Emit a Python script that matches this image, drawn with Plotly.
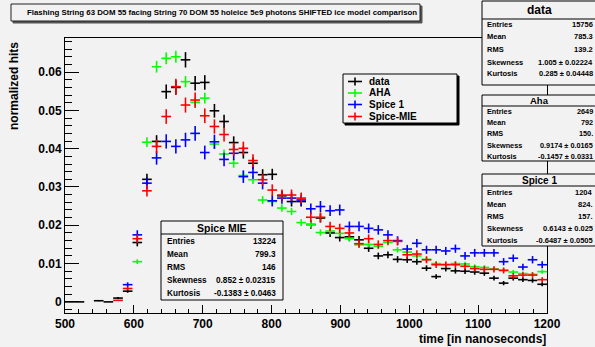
import math
import plotly.graph_objects as go

# ---- histogram binning (50 bins, 500-1200 ns) ----
x_lo, x_hi, n_bins = 500, 1200, 50
bin_w = (x_hi - x_lo) / n_bins
bin_centers = [x_lo + bin_w * (k + 0.5) for k in range(n_bins)]

# ---- normalized hit fractions per bin ----
data_vals = [0.0, 0.0, None, 0.0003, 0.0, 0.0010, 0.0028, 0.0155, 0.0320, 0.0419,
             0.0549, 0.0560, 0.0632, 0.0571, 0.0573, 0.0499, 0.0471, 0.0416, 0.0390, 0.0362,
             0.0332, 0.0333, 0.0277, 0.0262, 0.0262, 0.0202, 0.0219, 0.0180, 0.0168, 0.0170,
             0.0162, 0.0140, 0.0120, 0.0123, 0.0111, 0.0110, 0.0105, 0.0088, 0.0066, 0.0087,
             0.0081, 0.0080, 0.0078, 0.0075, 0.0062, 0.0049, 0.0062, 0.0058, 0.0056, 0.0046]
aha_vals = [None, None, None, None, None, None, None, 0.0105, 0.0417, 0.0614,
            0.0636, 0.0640, 0.0575, 0.0521, 0.0532, 0.0412, 0.0386, 0.0362, 0.0330, 0.0319,
            0.0266, 0.0262, 0.0245, 0.0236, 0.0207, 0.0202, 0.0181, 0.0185, 0.0179, 0.0165,
            0.0149, 0.0150, 0.0145, 0.0155, 0.0136, 0.0130, 0.0120, 0.0111, 0.0100, 0.0098,
            0.0100, 0.0099, 0.0092, 0.0090, 0.0086, 0.0083, 0.0078, 0.0074, 0.0072, 0.0079]
spice1_vals = [None, None, None, None, None, None, 0.0045, 0.0175, 0.0310, 0.0376,
               0.0419, 0.0406, 0.0423, 0.0440, 0.0390, 0.0418, 0.0372, 0.0388, 0.0327, 0.0338,
               0.0310, 0.0264, 0.0271, 0.0271, 0.0266, 0.0243, 0.0249, 0.0238, 0.0240, 0.0197,
               0.0197, 0.0192, 0.0188, 0.0175, 0.0160, 0.0138, 0.0153, 0.0136, 0.0136, 0.0133,
               0.0139, 0.0120, 0.0128, 0.0128, 0.0128, 0.0105, 0.0114, 0.0091, 0.0110, 0.0097]
spicemie_vals = [None, None, None, None, None, 0.0004, 0.0035, 0.0165, 0.0290, 0.0406,
                 0.0484, 0.0562, 0.0514, 0.0527, 0.0486, 0.0458, 0.0437, 0.0398, 0.0401, 0.0369,
                 0.0319, 0.0292, 0.0279, 0.0279, 0.0271, 0.0221, 0.0221, 0.0197, 0.0192, 0.0180,
                 0.0152, 0.0165, 0.0150, 0.0160, 0.0158, 0.0123, 0.0125, 0.0110, 0.0097, 0.0097,
                 0.0097, 0.0093, 0.0087, 0.0085, 0.0085, 0.0082, 0.0068, 0.0070, 0.0070, 0.0058]

# entries used for the statistical error of each normalized histogram
entries = {"data": 15756, "AHA": 26490, "Spice 1": 12040, "Spice-MIE": 13224}

series_names = ["data", "AHA", "Spice 1", "Spice-MIE"]
series_vals = [data_vals, aha_vals, spice1_vals, spicemie_vals]
series_colors = ["#000000", "#00ff00", "#0000ff", "#ff0000"]

# ---- statistics boxes ----
stat_labels = ["Entries", "Mean", "RMS", "Skewness", "Kurtosis"]
data_stats = ["15756", "785.3", "139.2", "1.005 ± 0.02224", "0.285 ± 0.04448"]
aha_stats = ["2649", "792", "150.", "0.9174 ± 0.0165", "-0.1457 ± 0.0331"]
spice1_stats = ["1204", "824.", "157.", "0.6143 ± 0.025", "-0.6487 ± 0.0505"]
spicemie_stats = ["13224", "799.3", "146", "0.852 ± 0.02315", "-0.1383 ± 0.0463"]

title_text = ("Flashing String 63 DOM 55 facing String 70 DOM 55 holeice 5e9 photons "
              "SHIFTED ice model comparison")
y_tick_vals = [0, 0.01, 0.02, 0.03, 0.04, 0.05, 0.06]
y_tick_text = ["0", "0.01", "0.02", "0.03", "0.04", "0.05", "0.06"]
x_tick_vals = [500, 600, 700, 800, 900, 1000, 1100, 1200]

# ---- page geometry (pixels) ----
W, H = 595, 347
FL, FR, FT, FB = 65, 547, 38, 313
BG = "#f2f2f2"
FONT = "Liberation Sans"


def px(x):
    return (x - FL) / (FR - FL)


def py(y):
    return (FB - y) / (FB - FT)


fig = go.Figure()

for name, vals, col in zip(series_names, series_vals, series_colors):
    xs, ys, es = [], [], []
    for c, v in zip(bin_centers, vals):
        if v is None:
            continue
        xs.append(c)
        ys.append(v)
        es.append(math.sqrt(v / entries[name]))
    fig.add_trace(go.Scatter(
        x=xs, y=ys, mode="markers", name=name, showlegend=False,
        marker=dict(size=0.1, color=col),
        error_x=dict(type="constant", value=bin_w / 2, width=0, thickness=1.6, color=col),
        error_y=dict(type="data", array=es, width=0, thickness=1.6, color=col),
        cliponaxis=True,
    ))

shapes = []
annots = []


def rect(x0, y0, x1, y1, fill=BG, line="#000000", lw=1):
    shapes.append(dict(type="rect", xref="paper", yref="paper",
                       x0=px(x0), x1=px(x1), y0=py(y1), y1=py(y0),
                       fillcolor=fill, line=dict(color=line, width=lw), layer="above"))


def hline(x0, x1, y, col="#000000", lw=1):
    shapes.append(dict(type="line", xref="paper", yref="paper",
                       x0=px(x0), x1=px(x1), y0=py(y), y1=py(y),
                       line=dict(color=col, width=lw), layer="above"))


def vline(x, y0, y1, col="#000000", lw=1):
    shapes.append(dict(type="line", xref="paper", yref="paper",
                       x0=px(x), x1=px(x), y0=py(y0), y1=py(y1),
                       line=dict(color=col, width=lw), layer="above"))


def text(x, y, s, size, anchor="left", col="#000000", angle=0):
    annots.append(dict(xref="paper", yref="paper", x=px(x), y=py(y), text="<b>%s</b>" % s,
                       showarrow=False, xanchor=anchor, yanchor="middle", textangle=angle,
                       font=dict(family=FONT, size=size, color=col)))


# title box with a drop shadow
rect(13, 6, 422, 23, fill="#555555", line="#555555")
rect(11, 4, 420, 21, fill=BG, line="#222222")
text(222, 12.5, title_text, 7.85, anchor="center")


def stats_box(left, right, top, sep, bottom, title, title_y, title_size,
              row_ys, values, row_size, lab_x, val_x):
    rect(left, top, right, bottom)
    hline(left, right, sep)
    cx = (left + right) / 2 if right <= W else (left + W) / 2 + 1
    text(cx, title_y, title, title_size, anchor="center")
    for lab, val, yy in zip(stat_labels, values, row_ys):
        text(lab_x, yy, lab, row_size, anchor="left")
        text(val_x, yy, val, row_size, anchor="right")


stats_box(482, 600, 1, 19, 85, "data", 10, 12,
          [25, 37, 49.5, 62, 74], data_stats, 7.5, 485, 595)
stats_box(482, 600, 95, 106, 161, "Aha", 100.5, 9.5,
          [111.5, 122.5, 133.5, 145, 156], aha_stats, 7.3, 485, 595)
stats_box(482, 600, 174, 186, 246, "Spice 1", 180, 10,
          [192, 204, 216.5, 228.5, 240.5], spice1_stats, 7.5, 485, 595)
stats_box(161, 283, 221, 234, 300, "Spice MIE", 227.5, 10.5,
          [241, 254, 267, 280.5, 293.5], spicemie_stats, 8.2, 165, 278)

# legend with a drop shadow
rect(345, 76, 459, 125, fill="#000000")
rect(343, 74, 457, 123)
leg_ys = [81.5, 93, 104.5, 116.5]
for name, col, yy in zip(series_names, series_colors, leg_ys):
    hline(348, 362, yy, col=col, lw=1.6)
    vline(355, yy - 4, yy + 4, col=col, lw=1.6)
    text(367, yy, name, 10, anchor="left")

# axis titles
text(14, 86, "normalized hits", 12, anchor="center", angle=-90)
text(548, 339, "time [in nanoseconds]", 12, anchor="right")

fig.update_layout(
    width=W, height=H,
    margin=dict(l=FL, r=W - FR, t=FT, b=H - FB, pad=0),
    paper_bgcolor=BG, plot_bgcolor=BG,
    shapes=shapes, annotations=annots,
    showlegend=False,
    xaxis=dict(range=[x_lo, x_hi], tickvals=x_tick_vals,
               ticks="inside", ticklen=8, tickcolor="#000000", tickwidth=1,
               minor=dict(ticks="inside", ticklen=4, dtick=20, tickcolor="#000000"),
               showline=True, linecolor="#000000", linewidth=1, mirror=True,
               showgrid=False, zeroline=False,
               tickfont=dict(family=FONT, size=12, color="#000000", weight="bold")),
    yaxis=dict(range=[-0.0029, 0.0689], tickvals=y_tick_vals, ticktext=y_tick_text,
               ticks="inside", ticklen=14, tickcolor="#000000", tickwidth=1,
               minor=dict(ticks="inside", ticklen=7, dtick=0.002, tickcolor="#000000"),
               showline=True, linecolor="#000000", linewidth=1, mirror=True,
               showgrid=False, zeroline=False,
               tickfont=dict(family=FONT, size=12, color="#000000", weight="bold")),
)

fig.write_html("out.html")
